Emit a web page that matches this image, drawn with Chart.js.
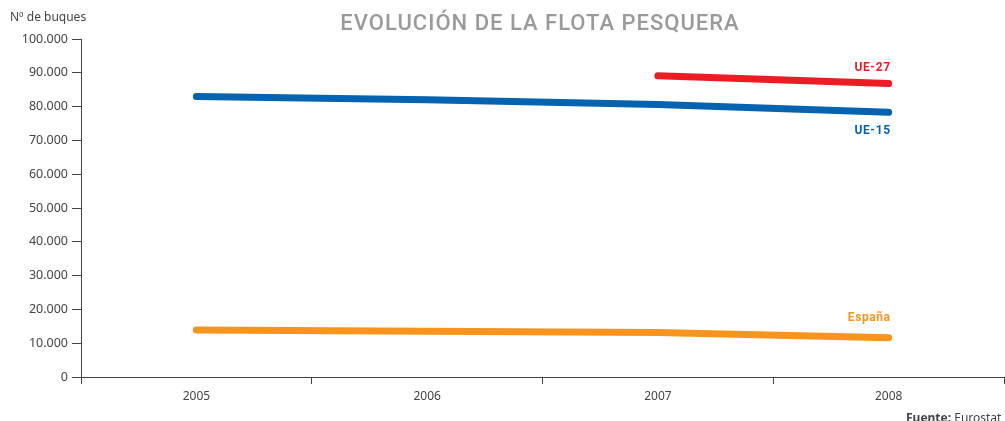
<!DOCTYPE html>
<html>
<head>
<meta charset="utf-8">
<script src="https://cdn.jsdelivr.net/npm/chart.js@4"></script>
<style>
  html, body { margin: 0; padding: 0; background: #fff; }
  #wrap { width: 1005px; height: 421px; position: relative; }
</style>
</head>
<body>
<div id="wrap"><canvas id="flota"></canvas></div>
<script>
// datos (numero de buques)
let years = ["2005", "2006", "2007", "2008"];
let ue15 = [83000, 82000, 80600, 78300];
let ue27 = [null, null, 89100, 86800];
let espana = [13900, 13500, 13200, 11600];
let yTicks = [0, 10000, 20000, 30000, 40000, 50000, 60000, 70000, 80000, 90000, 100000];

let azul = '#0563af';
let rojo = '#ec1c24';
let naranja = '#f7941d';
let gris = '#444';

function formatoMiles(v) {
  return v.toString().replace(/\B(?=(\d{3})+(?!\d))/g, '.');
}

// textos fijos y etiquetas de series
let textos = {
  id: 'textos',
  afterDraw(chart) {
    let ctx = chart.ctx;
    let x = chart.scales.x;
    let y = chart.scales.y;
    ctx.save();

    ctx.fillStyle = '#9a9a9a';
    ctx.font = '500 22px Roboto';
    ctx.letterSpacing = '1px';
    ctx.textAlign = 'center';
    ctx.textBaseline = 'middle';
    ctx.fillText('EVOLUCIÓN DE LA FLOTA PESQUERA', 540, 24);
    ctx.letterSpacing = '0px';

    ctx.fillStyle = gris;
    ctx.font = '12px "Noto Sans"';
    ctx.textAlign = 'left';
    ctx.fillText('Nº de buques', 10, 18);

    ctx.font = 'bold 12px "Noto Sans"';
    ctx.fillText('Fuente:', 906, 419);
    let w = ctx.measureText('Fuente: ').width;
    ctx.font = '12px "Noto Sans"';
    ctx.fillText('Eurostat', 906 + w, 419);

    // etiquetas junto al ultimo punto
    let last = years.length - 1;
    let px = x.getPixelForValue(last) + 2;
    ctx.textAlign = 'right';
    ctx.font = 'bold 12px Roboto';
    ctx.letterSpacing = '0.6px';
    ctx.fillStyle = rojo;
    ctx.fillText('UE-27', px, y.getPixelForValue(ue27[last]) - 16);
    ctx.fillStyle = azul;
    ctx.fillText('UE-15', px, y.getPixelForValue(ue15[last]) + 19);
    ctx.fillStyle = naranja;
    ctx.fillText('España', px, y.getPixelForValue(espana[last]) - 20);
    ctx.restore();
  }
};

function serie(label, data, color) {
  return {
    label: label,
    data: data,
    borderColor: color,
    backgroundColor: color,
    borderWidth: 7,
    borderCapStyle: 'round',
    borderJoinStyle: 'round',
    pointRadius: 0,
    tension: 0,
    fill: false
  };
}

new Chart(document.getElementById('flota'), {
  type: 'line',
  data: {
    labels: years,
    datasets: [
      serie('UE-27', ue27, rojo),
      serie('UE-15', ue15, azul),
      serie('España', espana, naranja)
    ]
  },
  options: {
    responsive: true,
    maintainAspectRatio: false,
    animation: false,
    layout: { padding: { top: 39, right: 1, bottom: 0, left: 0 } },
    plugins: {
      legend: { display: false },
      title: { display: false },
      tooltip: { enabled: false }
    },
    scales: {
      x: {
        offset: true,
        grid: {
          offset: true,
          drawOnChartArea: false,
          drawTicks: true,
          tickLength: 7,
          color: gris
        },
        border: { color: gris, width: 1 },
        ticks: {
          color: gris,
          font: { family: 'Noto Sans', size: 12 },
          padding: 5
        },
        afterFit(s) { s.height = 44; }
      },
      y: {
        min: 0,
        max: 100000,
        afterBuildTicks(s) { s.ticks = yTicks.map(v => ({ value: v })); },
        grid: {
          drawOnChartArea: false,
          drawTicks: true,
          tickLength: 9,
          color: gris
        },
        border: { color: gris, width: 1 },
        ticks: {
          color: gris,
          font: { family: 'Noto Sans', size: 12.5 },
          padding: 4,
          callback: v => formatoMiles(v)
        },
        afterFit(s) { s.width = 81; }
      }
    }
  },
  plugins: [textos]
});
</script>
</body>
</html>
